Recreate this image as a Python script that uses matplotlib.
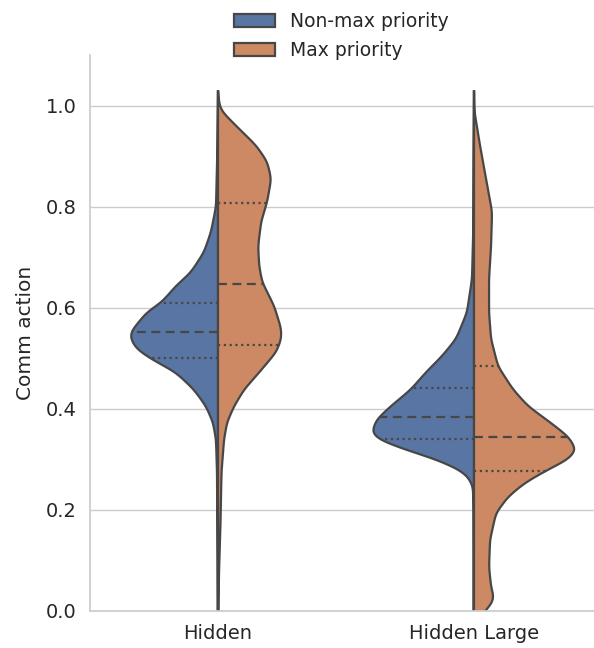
import numpy as np
import matplotlib
matplotlib.use('Agg')
import matplotlib.pyplot as plt
import seaborn as sns

categories = ["Hidden", "Hidden Large"]
hue_labels = ["Non-max priority", "Max priority"]

# violin half profiles: y value and relative density
hidden_nonmax_y = [0.0, 0.10, 0.20, 0.274, 0.339, 0.373, 0.405, 0.438, 0.472, 0.498, 0.518,
                   0.538, 0.552, 0.591, 0.611, 0.643, 0.67, 0.71, 0.75, 0.80, 0.90, 1.03]
hidden_nonmax_d = [0.3, 0.5, 0.8, 1.0, 2, 5, 12, 24, 42, 66, 81,
                   87, 87, 71, 56, 42, 27, 14, 7, 2, 0.8, 0]
hidden_max_y = [0.0, 0.075, 0.175, 0.274, 0.339, 0.373, 0.405, 0.438, 0.472, 0.512, 0.538,
                0.558, 0.603, 0.651, 0.683, 0.722, 0.770, 0.810, 0.855, 0.889, 0.921, 0.954,
                0.988, 1.0, 1.03]
hidden_max_d = [0.5, 1.0, 2.5, 3.5, 6, 9, 16, 26, 41, 58, 63,
                63, 56, 44, 41, 40, 43, 49, 53, 49, 38, 21,
                4, 1.5, 0]
large_nonmax_y = [0.0, 0.10, 0.20, 0.246, 0.266, 0.280, 0.300, 0.319, 0.339, 0.353, 0.379,
                  0.405, 0.438, 0.472, 0.504, 0.538, 0.552, 0.591, 0.657, 0.75, 0.90, 1.03]
large_nonmax_d = [0.5, 0.5, 0.6, 1, 6, 15, 38, 68, 95, 102, 97,
                  83, 63, 48, 32, 18, 15, 7, 2, 0.8, 0.5, 0]
large_max_y = [-0.01, 0.002, 0.008, 0.026, 0.048, 0.087, 0.141, 0.194, 0.226, 0.254, 0.280,
               0.300, 0.319, 0.345, 0.373, 0.405, 0.438, 0.484, 0.538, 0.591, 0.657, 0.722,
               0.790, 0.855, 0.921, 0.988, 1.03]
large_max_d = [9, 10, 16, 20, 17, 15, 16, 22, 34, 51, 74,
               94, 102, 94, 76, 54, 39, 24, 17, 15, 15, 17,
               18, 12, 6, 0.5, 0]

# quartiles (q1, median, q3)
hidden_nonmax_q = [0.500, 0.551, 0.609]
hidden_max_q = [0.527, 0.646, 0.808]
large_nonmax_q = [0.341, 0.384, 0.441]
large_max_q = [0.277, 0.344, 0.484]

sns.set_theme(style="whitegrid")
plt.rcParams['font.family'] = ['DejaVu Sans']

colors = ["#5975A4", "#CC8963"]
edge = "#474747"


def smooth_profile(ys, ds):
    # resample on a fine grid and soften the corners of the hand-read outline
    grid = np.linspace(ys[0], ys[-1], 600)
    d = np.interp(grid, ys, ds)
    step = grid[1] - grid[0]
    k = np.arange(-30, 31) * step
    kern = np.exp(-0.5 * (k / 0.008) ** 2)
    kern /= kern.sum()
    pad = np.concatenate([np.full(30, d[0]), d, np.full(30, d[-1])])
    d = np.convolve(pad, kern, mode="same")[30:-30]
    d[-1] = 0
    return grid, d


fig = plt.figure(figsize=(5.94, 6.48), dpi=100)
ax = fig.add_axes([90 / 594, 37 / 648, 512 / 594, 556 / 648])

dmax = max(max(hidden_nonmax_d), max(hidden_max_d), max(large_nonmax_d), max(large_max_d))
halves = [
    (0, -1, hidden_nonmax_y, hidden_nonmax_d, hidden_nonmax_q, colors[0]),
    (0, 1, hidden_max_y, hidden_max_d, hidden_max_q, colors[1]),
    (1, -1, large_nonmax_y, large_nonmax_d, large_nonmax_q, colors[0]),
    (1, 1, large_max_y, large_max_d, large_max_q, colors[1]),
]
for pos, side, ys, ds, qs, col in halves:
    ys, d = smooth_profile(ys, ds)
    w = d / dmax * 0.4
    xs = np.concatenate([pos + side * w, [pos, pos]])
    yy = np.concatenate([ys, [ys[-1], ys[0]]])
    ax.fill(xs, yy, facecolor=col, edgecolor=edge, linewidth=1.6, zorder=2)
    for i, q in enumerate(qs):
        wq = np.interp(q, ys, w)
        ls = (0, (4, 2.5)) if i == 1 else (0, (1, 1.6))
        ax.plot([pos, pos + side * wq], [q, q], color=edge, linewidth=1.6,
                linestyle=ls, zorder=3)

ax.set_xlim(-0.5, 1.5)
ax.set_ylim(0, 1.1)
ax.set_xticks([0, 1])
ax.set_xticklabels(categories)
ax.set_yticks([0, 0.2, 0.4, 0.6, 0.8, 1.0])
ax.tick_params(labelsize=14)
ax.set_ylabel("Comm action", fontsize=14.5, labelpad=8)
ax.xaxis.grid(False)
sns.despine(ax=ax)

handles = [plt.Rectangle((0, 0), 1, 1, facecolor=c, edgecolor=edge, linewidth=1.6) for c in colors]
fig.legend(handles, hue_labels, loc="upper center", bbox_to_anchor=(341 / 594, 1.008),
           frameon=False, fontsize=13.5, handlelength=2.2, labelspacing=0.55)

plt.savefig("out.png")
